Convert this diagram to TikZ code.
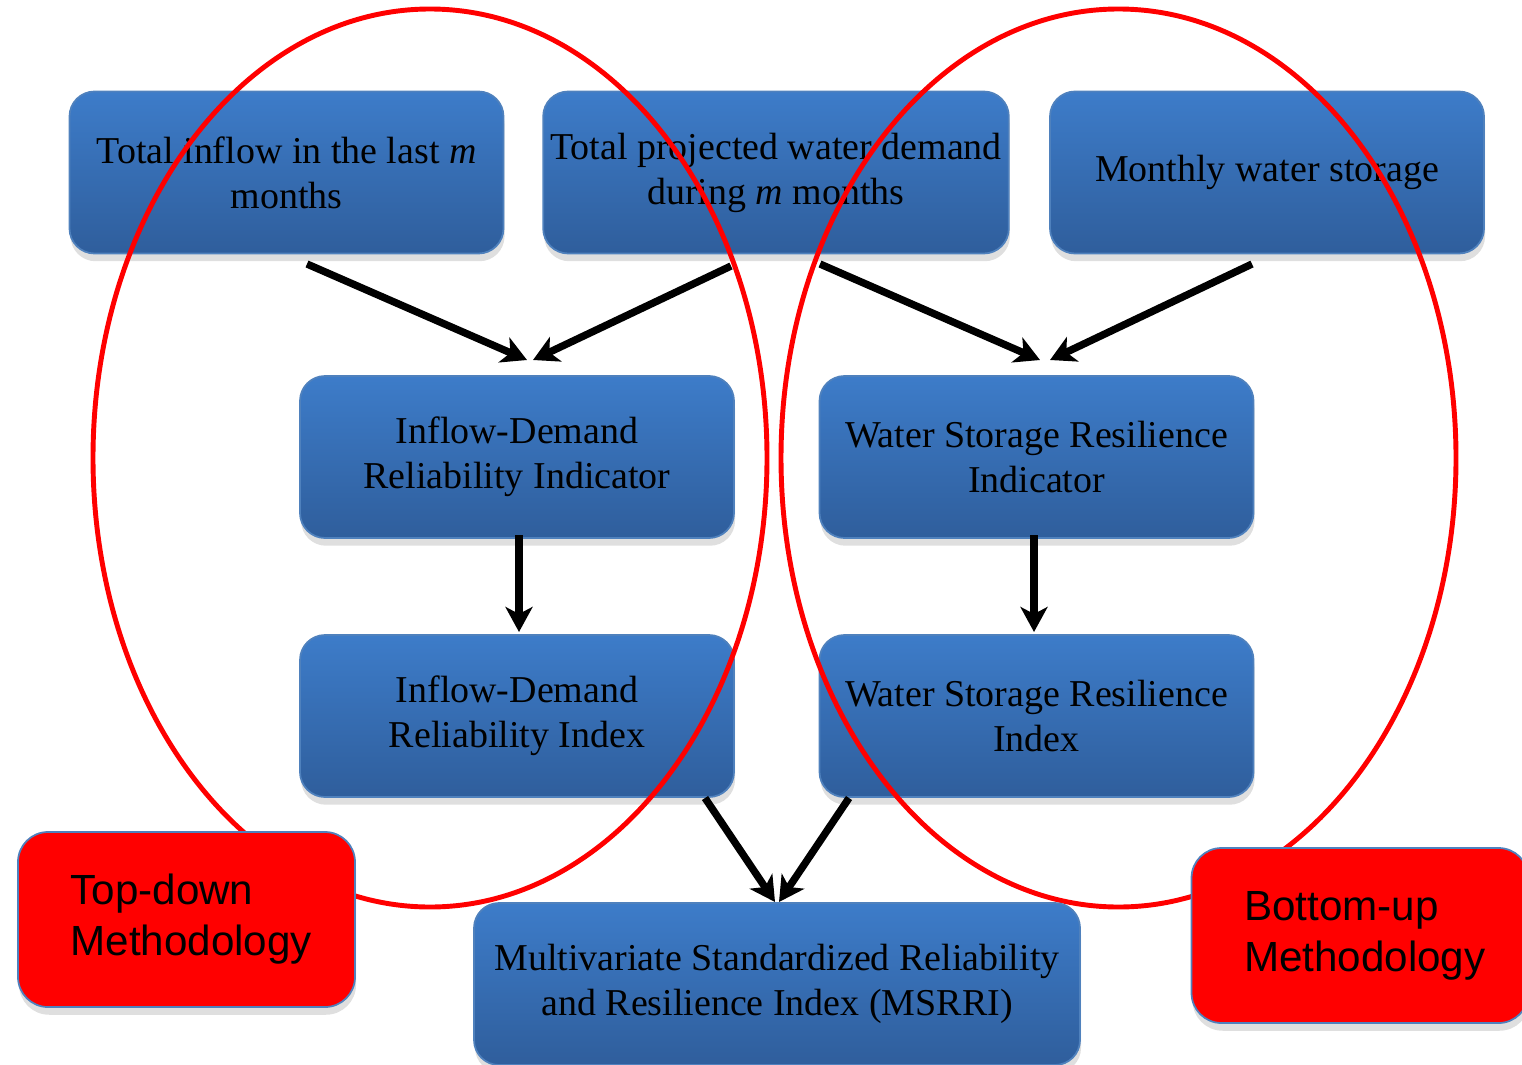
\documentclass[tikz,border=0pt]{standalone}
\usepackage{fontspec}
\setmainfont{Liberation Serif}
\newfontfamily\methfont{Liberation Sans}
\newcommand\methset{\methfont\fontsize{12}{14.5}\selectfont\hyphenpenalty 10000\relax}
\usetikzlibrary{arrows.meta,shadows}
\definecolor{boxtop}{RGB}{61,124,201}
\definecolor{boxbot}{RGB}{47,94,156}
\definecolor{boxline}{RGB}{79,129,189}
\tikzset{
	blk/.style={draw=boxline, line width=0.5pt, rounded corners=0.25cm,
		top color=boxtop, bottom color=boxbot, minimum width=4.34cm,
		minimum height=1.62cm, inner xsep=2pt, align=center,
		font=\fontsize{10.8}{12.8}\selectfont,
		drop shadow={opacity=0.25, shadow xshift=0.3pt, shadow yshift=-2.2pt}},
	meth/.style={draw=boxline, line width=0.5pt, fill=red, rounded corners=0.3cm,
		minimum width=3.37cm, minimum height=1.75cm, text width=2.32cm, align=left,
		font=\methset,
		drop shadow={opacity=0.25, shadow xshift=0.3pt, shadow yshift=-2.2pt}},
	arr/.style={-{Stealth[length=0.25cm,width=0.27cm,inset=0.07cm]}, line width=2.1pt},
	ring/.style={red, line width=1.4pt}
}
\begin{document}
\begin{tikzpicture}
	\useasboundingbox (0,0) rectangle (15.22,10.64);
	% input boxes
	\node[blk] (inflow) at (2.865,8.915) {Total inflow in the last \textit{m}\\months};
	\node[blk, minimum width=4.62cm] (demand) at (7.76,8.915) {Total projected water demand\\during \textit{m} months};
	\node[blk] (storage) at (12.67,8.915) {Monthly water storage};
	% indicators and indices
	\node[blk] (idrind) at (5.17,6.07) {Inflow-Demand\\Reliability Indicator};
	\node[blk] (wsrind) at (10.365,6.07) {Water Storage Resilience\\Indicator};
	\node[blk] (idri) at (5.17,3.48) {Inflow-Demand\\Reliability Index};
	\node[blk] (wsri) at (10.365,3.48) {Water Storage Resilience\\Index};
	% arrow ends
	\coordinate (a1) at (3.07,8.00);
	\coordinate (a2) at (7.31,7.98);
	\coordinate (a3) at (8.20,8.00);
	\coordinate (a4) at (12.52,8.00);
	\coordinate (t1) at (5.27,7.04);
	\coordinate (t2) at (5.33,7.04);
	\coordinate (t3) at (10.40,7.04);
	\coordinate (t4) at (10.50,7.04);
	\coordinate (b1) at (5.19,5.29);
	\coordinate (b2) at (5.19,4.32);
	\coordinate (b3) at (10.34,5.29);
	\coordinate (b4) at (10.34,4.32);
	\coordinate (c1) at (7.05,2.66);
	\coordinate (c2) at (8.49,2.66);
	\coordinate (m1) at (7.75,1.62);
	\coordinate (m2) at (7.79,1.62);
	\draw[arr] (a1) -- (t1);
	\draw[arr] (a2) -- (t2);
	\draw[arr] (a3) -- (t3);
	\draw[arr] (a4) -- (t4);
	\draw[arr] (b1) -- (b2);
	\draw[arr] (b3) -- (b4);
	\draw[arr] (c1) -- (m1);
	\draw[arr] (c2) -- (m2);
	% the two methodologies
	\draw[ring] (4.30,6.06) ellipse [x radius=3.37, y radius=4.49];
	\draw[ring] (11.185,6.06) ellipse [x radius=3.375, y radius=4.49];
	\node[blk, minimum width=6.06cm] (msrri) at (7.77,0.80) {Multivariate Standardized Reliability\\and Resilience Index (MSRRI)};
	\node[meth] (topdown) at (1.865,1.445) {Top-down\\Methodology};
	\node[meth] (bottomup) at (13.60,1.285) {Bottom-up\\Methodology};
\end{tikzpicture}
\end{document}
